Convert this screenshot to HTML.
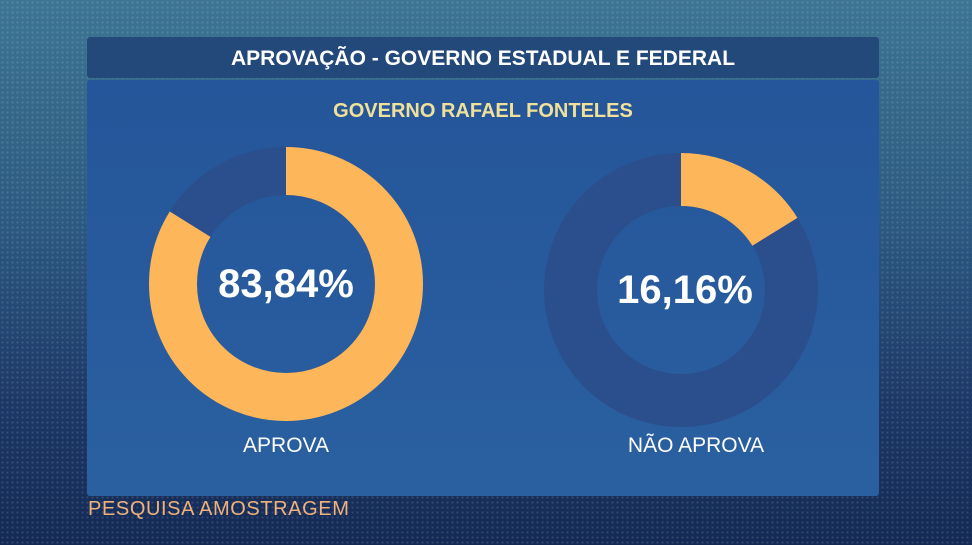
<!DOCTYPE html>
<html><head><meta charset="utf-8"><style>
body{margin:0;width:972px;height:545px;overflow:hidden;font-family:"Liberation Sans",sans-serif;
background:linear-gradient(180deg,#3d7593 0%,#2c5a82 40%,#1c3766 75%,#142a55 100%);position:relative}
.dots{position:absolute;inset:0;background-image:radial-gradient(rgba(255,255,255,0.13) 1px,transparent 1.3px);background-size:5px 5px}
.title{position:absolute;left:87px;top:37px;width:792px;height:41px;background:#23487a;color:#fff;font-weight:bold;font-size:21px;text-align:center;line-height:44px;border-radius:3px}
.panel{position:absolute;left:87px;top:80px;width:792px;height:416px;background:linear-gradient(180deg,#25559a,#2a60a0);border-radius:3px}
.sub{position:absolute;left:87px;top:100px;width:792px;text-align:center;color:#efe19a;font-weight:bold;font-size:20px}
.lbl{position:absolute;color:#fff;font-size:21px;text-align:center;width:300px}
.pct{position:absolute;color:#fff;font-weight:bold;font-size:40px;text-align:center;width:300px}
.foot{position:absolute;left:88px;top:498px;color:#f0b27a;font-size:20px;letter-spacing:0.6px}
</style></head><body>
<div class="dots"></div>
<div class="title">APROVAÇÃO - GOVERNO ESTADUAL E FEDERAL</div>
<div class="panel"></div>
<div class="sub">GOVERNO RAFAEL FONTELES</div>
<svg width="972" height="545" style="position:absolute;left:0;top:0">
<g transform="translate(286,284) rotate(-90)">
<circle r="113" fill="none" stroke="#2b4f8c" stroke-width="48"/>
<circle r="113" fill="none" stroke="#fdb75a" stroke-width="48" stroke-dasharray="595.3 1000"/>
</g>
<g transform="translate(681,290) rotate(-90)">
<circle r="110.5" fill="none" stroke="#2b4f8c" stroke-width="53"/>
<circle r="110.5" fill="none" stroke="#fdb75a" stroke-width="53" stroke-dasharray="112.2 1000"/>
</g>
</svg>
<div class="pct" style="left:136px;top:262px">83,84%</div>
<div class="pct" style="left:535px;top:268px">16,16%</div>
<div class="lbl" style="left:136px;top:434px">APROVA</div>
<div class="lbl" style="left:546px;top:434px">NÃO APROVA</div>
<div class="foot">PESQUISA AMOSTRAGEM</div>
</body></html>
